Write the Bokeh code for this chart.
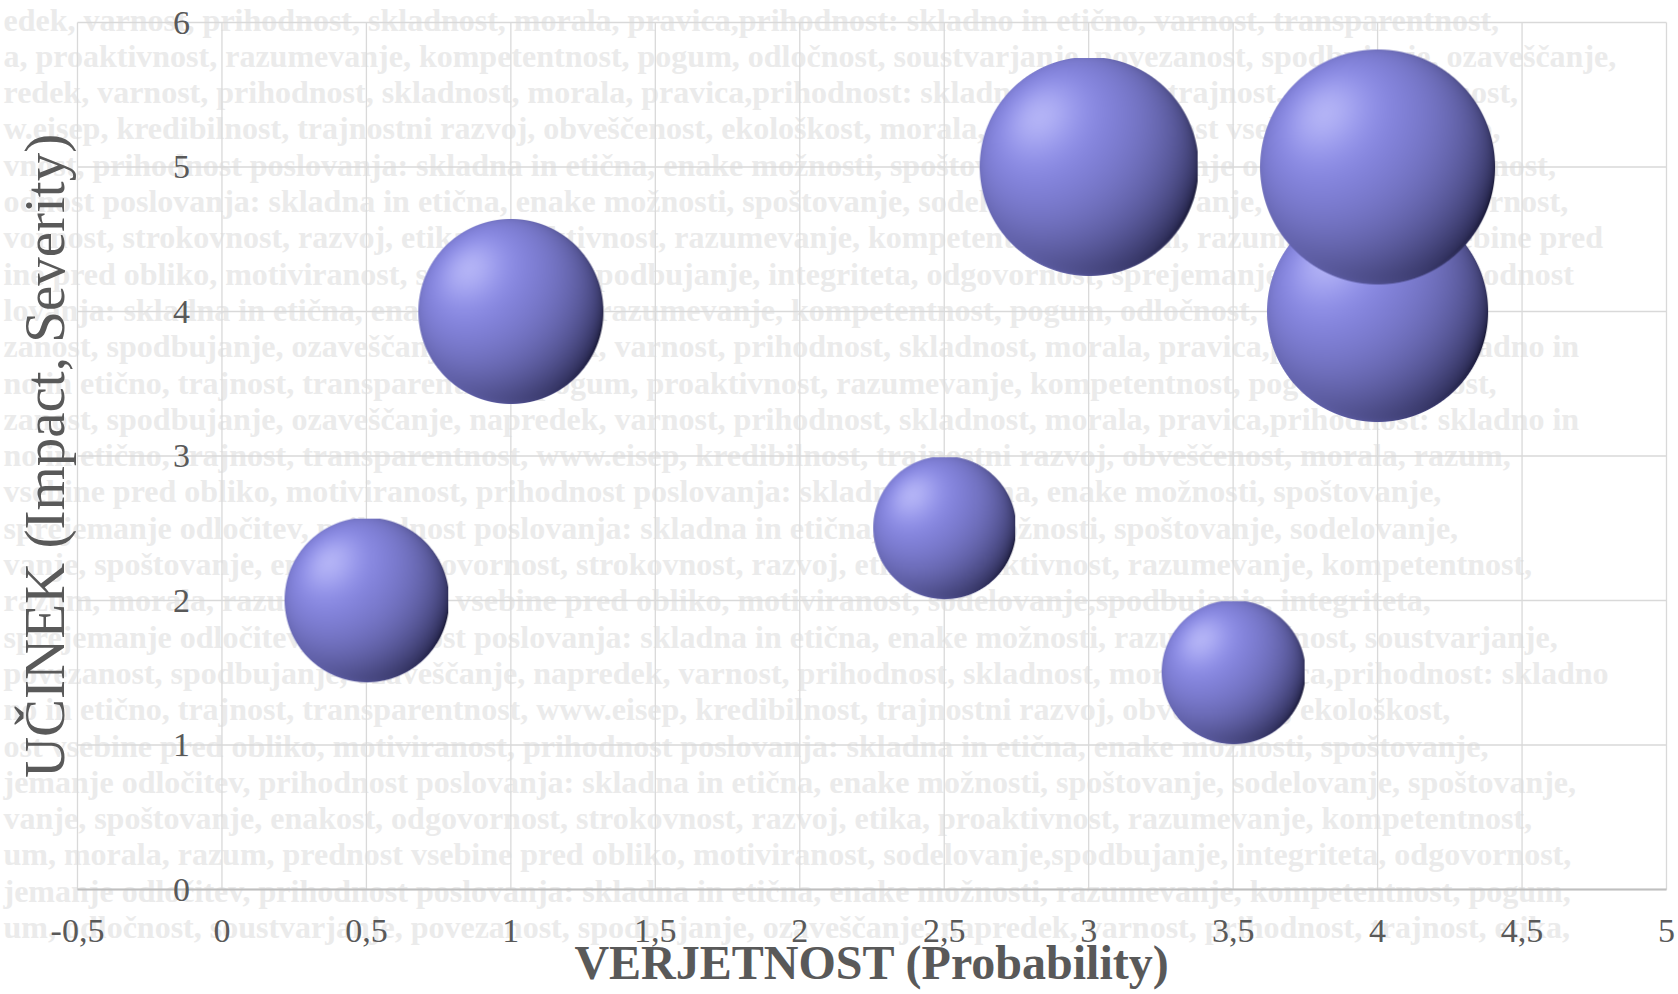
import numpy as np
from bokeh.plotting import figure
from bokeh.models import ColumnDataSource, LabelSet, FixedTicker, CustomJSTickFormatter, LinearAxis
from bokeh.core.properties import value
from bokeh.embed import file_html
from bokeh.resources import INLINE

# ---------------- data ----------------
probability = [0.5, 1.0, 2.5, 3.0, 3.5, 4.0, 4.0]
impact = [2.0, 4.0, 2.5, 5.0, 1.5, 4.0, 5.0]
bubble_size = [9.7, 12.4, 7.3, 17.2, 7.4, 17.7, 20.0]

x_ticks = [-0.5, 0, 0.5, 1, 1.5, 2, 2.5, 3, 3.5, 4, 4.5, 5]
y_ticks = [0, 1, 2, 3, 4, 5, 6]

x_title = "VERJETNOST (Probability)"
y_title = "UČINEK (Impact, Severity)"

watermark_lines = [
    "edek, varnost, prihodnost, skladnost, morala, pravica,prihodnost: skladno in etično, varnost, transparentnost, www.eisep, kredibilnost",
    "a, proaktivnost, razumevanje, kompetentnost, pogum, odločnost, soustvarjanje, povezanost, spodbujanje, ozaveščanje, napredek, varnost",
    "redek, varnost, prihodnost, skladnost, morala, pravica,prihodnost: skladno in etično, trajnost, transparentnost, www.eisep, kredibilnost",
    "w.eisep, kredibilnost, trajnostni razvoj, obveščenost, ekološkost, morala, razum, prednost vsebine pred obliko, motiviranost, sodelovanje",
    "vnost, prihodnost poslovanja: skladna in etična, enake možnosti, spoštovanje, sprejemanje odločitev, odgovornost, etika, razvoj",
    "odnost poslovanja: skladna in etična, enake možnosti, spoštovanje, sodelovanje, spoštovanje, enakost, odgovornost, etika, razvoj",
    "vornost, strokovnost, razvoj, etika, proaktivnost, razumevanje, kompetentnost, pogum, razum, prednost vsebine pred obliko, morala",
    "ine pred obliko, motiviranost, sodelovanje,spodbujanje, integriteta, odgovornost, sprejemanje odločitev, prihodnost poslovanja",
    "lovanja: skladna in etična, enake možnosti, razumevanje, kompetentnost, pogum, odločnost, soustvarjanje, povezanost, spodbujanje",
    "zanost, spodbujanje, ozaveščanje, napredek, varnost, prihodnost, skladnost, morala, pravica,prihodnost: skladno in etično, trajnost",
    "no in etično, trajnost, transparentnost, pogum, proaktivnost, razumevanje, kompetentnost, pogum, odločnost, soustvarjanje, povezanost",
    "zanost, spodbujanje, ozaveščanje, napredek, varnost, prihodnost, skladnost, morala, pravica,prihodnost: skladno in etično, trajnost",
    "no in etično, trajnost, transparentnost, www.eisep, kredibilnost, trajnostni razvoj, obveščenost, morala, razum, prednost vsebine",
    "vsebine pred obliko, motiviranost, prihodnost poslovanja: skladna in etična, enake možnosti, spoštovanje, sodelovanje, enakost",
    "sprejemanje odločitev, prihodnost poslovanja: skladna in etična, enake možnosti, spoštovanje, sodelovanje, spoštovanje, enakost",
    "vanje, spoštovanje, enakost, odgovornost, strokovnost, razvoj, etika, proaktivnost, razumevanje, kompetentnost, pogum, razum",
    "razum, morala, razum, prednost vsebine pred obliko, motiviranost, sodelovanje,spodbujanje, integriteta, odgovornost, sprejemanje",
    "sprejemanje odločitev, prihodnost poslovanja: skladna in etična, enake možnosti, razum, odločnost, soustvarjanje, povezanost",
    "povezanost, spodbujanje, ozaveščanje, napredek, varnost, prihodnost, skladnost, morala, pravica,prihodnost: skladno in etično",
    "no in etično, trajnost, transparentnost, www.eisep, kredibilnost, trajnostni razvoj, obveščenost, ekološkost, morala, razum, prednost",
    "ost vsebine pred obliko, motiviranost, prihodnost poslovanja: skladna in etična, enake možnosti, spoštovanje, sodelovanje, enakost",
    "jemanje odločitev, prihodnost poslovanja: skladna in etična, enake možnosti, spoštovanje, sodelovanje, spoštovanje, enakost",
    "vanje, spoštovanje, enakost, odgovornost, strokovnost, razvoj, etika, proaktivnost, razumevanje, kompetentnost, pogum, razum",
    "um, morala, razum, prednost vsebine pred obliko, motiviranost, sodelovanje,spodbujanje, integriteta, odgovornost, sprejemanje",
    "jemanje odločitev, prihodnost poslovanja: skladna in etična, enake možnosti, razumevanje, kompetentnost, pogum, odločnost",
    "um, odločnost, soustvarjanje, povezanost, spodbujanje, ozaveščanje, napredek, varnost, prihodnost, trajnost, etika, razvoj",
]

# ---------------- layout / style ----------------
X0, X1, Y0, Y1 = -0.5, 5.0, 0.0, 6.0
W, H = 1678, 994                      # whole canvas is the frame
FL, FR, FT, FB = 77, 1666, 22, 889    # pixel position of the data box
PXU_X = (FR - FL) / (X1 - X0)
PXU_Y = (FB - FT) / (Y1 - Y0)
XS = X0 - FL / PXU_X
XE = X1 + (W - FR) / PXU_X
YE = Y1 + FT / PXU_Y
YS = Y0 - (H - FB) / PXU_Y
MAX_D = 235.0
FONT = "Liberation Serif"
TXT = "#595959"
GRID = "#d9d9d9"
WM_MAX_CHARS = 116

p = figure(width=W, height=H, x_range=(XS, XE), y_range=(YS, YE),
           min_border=0, output_backend="svg", toolbar_location=None,
           background_fill_color="white", border_fill_color="white")
p.outline_line_color = None
p.xgrid.visible = False
p.ygrid.visible = False

# ---- watermark text (background) ----
def trim(s, n):
    if len(s) <= n:
        return s
    cut = s[:n]
    return cut[:cut.rfind(" ")].rstrip()

wm_text = [trim(s, WM_MAX_CHARS) for s in watermark_lines]
wm_x = [XS + 3 / PXU_X] * len(wm_text)
wm_y = [YE - (19 + 36.3 * i) / PXU_Y for i in range(len(wm_text))]
wm_src = ColumnDataSource(dict(x=wm_x, y=wm_y, text=wm_text))
wm = LabelSet(x="x", y="y", text="text", source=wm_src,
              text_font=value(FONT), text_font_size=value("32px"), text_font_style="bold",
              text_color="#ebebeb", text_align="left", text_baseline="middle",
              level="image")
p.add_layout(wm)

# ---- grid lines of the data box ----
p.segment(x0=x_ticks, x1=x_ticks, y0=[Y0] * len(x_ticks), y1=[Y1] * len(x_ticks),
          line_color=GRID, line_width=1.3)
p.segment(x0=[X0] * len(y_ticks), x1=[X1] * len(y_ticks), y0=y_ticks, y1=y_ticks,
          line_color=GRID, line_width=1.3)

# ---- x axis at y = 0 ----
xa = p.xaxis[0]
xa.fixed_location = Y0
xa.bounds = (X0, X1)
xa.ticker = FixedTicker(ticks=x_ticks)
xa.formatter = CustomJSTickFormatter(code="return tick.toString().replace('.', ',');")
xa.major_tick_line_color = None
xa.minor_tick_line_color = None
xa.major_tick_out = 0
xa.major_tick_in = 0
xa.axis_line_color = "#bfbfbf"
xa.axis_line_width = 2
xa.major_label_standoff = 30
xa.major_label_text_font = FONT
xa.major_label_text_font_size = "34px"
xa.major_label_text_color = TXT
xa.axis_label = x_title
xa.axis_label_text_font = FONT
xa.axis_label_text_font_style = "bold"
xa.axis_label_text_font_size = "48px"
xa.axis_label_text_color = TXT
xa.axis_label_standoff = -9

# ---- y axis crossing at x = 0 (tick labels) ----
ya = p.yaxis[0]
ya.fixed_location = 0
ya.bounds = (Y0, Y1)
ya.ticker = FixedTicker(ticks=y_ticks)
ya.major_tick_line_color = None
ya.minor_tick_line_color = None
ya.major_tick_out = 0
ya.major_tick_in = 0
ya.axis_line_color = None
ya.major_label_standoff = 32
ya.major_label_text_font = FONT
ya.major_label_text_font_size = "34px"
ya.major_label_text_color = TXT

# ---- y axis title at the left edge of the data box ----
yt = LinearAxis(fixed_location=X0, bounds=(Y0, Y1), ticker=FixedTicker(ticks=[]),
                axis_line_color=None, major_tick_out=0, major_tick_in=0,
                minor_tick_line_color=None, major_label_standoff=0,
                axis_label=y_title, axis_label_text_font=FONT,
                axis_label_text_font_style="normal", axis_label_text_font_size="57px",
                axis_label_text_color=TXT, axis_label_standoff=2)
p.add_layout(yt, "left")

# ---------------- 3-D sphere bubbles ----------------
def sphere_rgba(d):
    n = int(round(d))
    t = (np.arange(n) + 0.5) / n * 2 - 1
    u, v = np.meshgrid(t, t)          # row 0 = bottom of image
    r = np.sqrt(u * u + v * v)
    z = np.sqrt(np.clip(1 - r * r, 0, 1))
    L = np.array([-0.45, 0.45, 0.77]); L /= np.linalg.norm(L)
    ndl = u * L[0] + v * L[1] + z * L[2]
    wrap = np.clip((ndl + 0.45) / 1.45, 0, 1)
    f = wrap ** 0.75
    dark = np.array([25, 25, 55]) / 255
    base = np.array([142, 142, 236]) / 255
    col = dark[None, None, :] + (base - dark)[None, None, :] * f[..., None]
    hl = np.clip(ndl, 0, 1) ** 16 * 0.5
    white = np.array([215, 215, 255]) / 255
    col = col + (white - col) * hl[..., None]
    rim = np.clip(-v * 0.9 - u * 0.2, 0, 1) ** 1.2 * np.clip(1 - z, 0, 1) ** 2.2
    rimc = np.array([128, 128, 222]) / 255
    col = col + (rimc - col) * (0.7 * rim)[..., None]
    a = np.clip((1 - r) * n / 2 + 0.5, 0, 1)
    img = np.zeros((n, n, 4), dtype=np.uint8)
    img[..., :3] = np.clip(col * 255, 0, 255).astype(np.uint8)
    img[..., 3] = (a * 255).astype(np.uint8)
    return img.view(dtype=np.uint32).reshape((n, n))

smax = max(bubble_size)
diam = [MAX_D * np.sqrt(s / smax) for s in bubble_size]
sph_src = ColumnDataSource(dict(
    image=[sphere_rgba(d) for d in diam],
    x=[px - d / 2 / PXU_X for px, d in zip(probability, diam)],
    y=[py - d / 2 / PXU_Y for py, d in zip(impact, diam)],
    dw=[d / PXU_X for d in diam],
    dh=[d / PXU_Y for d in diam],
))
p.image_rgba(image="image", x="x", y="y", dw="dw", dh="dh", source=sph_src)

open("out.html", "w").write(file_html(p, INLINE))
